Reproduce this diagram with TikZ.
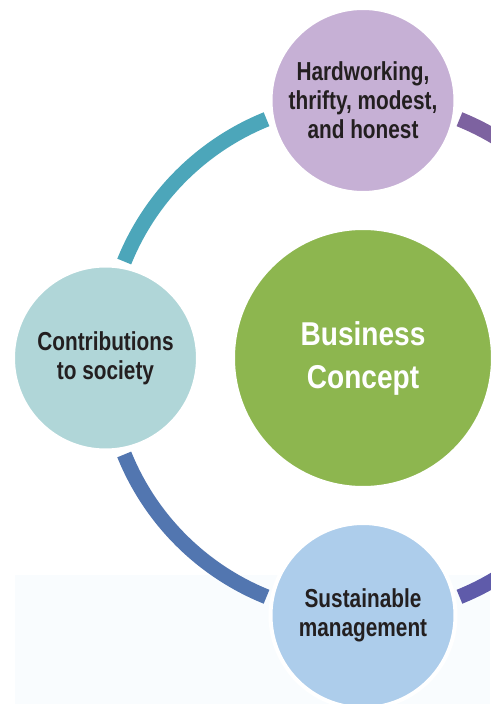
\documentclass[tikz,border=0pt]{standalone}
\usepackage{fontspec}
\newfontfamily\narrowfont[FakeStretch=0.8]{Liberation Sans}
\newfontfamily\corefont[FakeStretch=0.85]{Liberation Sans}
\usetikzlibrary{positioning}
\definecolor{ringteal}{RGB}{76,166,186}
\definecolor{ringblue}{RGB}{82,118,176}
\definecolor{ringpurple}{RGB}{125,98,160}
\definecolor{ringindigo}{RGB}{95,91,170}
\definecolor{fillpurple}{RGB}{198,176,213}
\definecolor{fillteal}{RGB}{176,214,216}
\definecolor{fillblue}{RGB}{173,205,235}
\definecolor{fillgreen}{RGB}{141,182,79}
\definecolor{textdark}{RGB}{35,31,32}
\definecolor{haze}{RGB}{249,252,254}
\tikzstyle{value} = [circle, minimum size=185pt, inner sep=0pt, outer sep=0pt, draw=white,
line width=4pt, align=center, text=textdark, font=\narrowfont\bfseries\fontsize{26}{29}\selectfont]
\tikzstyle{core} = [circle, minimum size=260pt, inner sep=0pt, outer sep=0pt, draw=white,
line width=4pt, fill=fillgreen, align=center, text=white, font=\corefont\bfseries\fontsize{33}{43}\selectfont]
\tikzstyle{link} = [line width=15pt, line cap=butt]

\begin{document}
\begin{tikzpicture} [node distance=35pt]
  % page and the faint band at the bottom
  \fill[white] (-363pt,-346pt) rectangle (127pt,358pt);
  \fill[haze] (-348pt,-217pt) rectangle (127pt,-346pt);
  \useasboundingbox (-363pt,-346pt) rectangle (127pt,358pt);

  \node (concept) [core] {Business\\Concept};
  \node (honest) [value, fill=fillpurple, above=of concept] {Hardworking,\\thrifty, modest,\\and honest};
  \node (society) [value, fill=fillteal, left=of concept] {Contributions\\to society};
  \node (sustain) [value, fill=fillblue, below=of concept] {Sustainable\\management};

  % ring segments between the circles
  \draw[link, ringteal] (concept.center) ++(112:257.5pt) arc[start angle=112, end angle=158, radius=257.5pt];
  \draw[link, ringblue] (concept.center) ++(202:257.5pt) arc[start angle=202, end angle=248, radius=257.5pt];
  \draw[link, ringpurple] (concept.center) ++(68:257.5pt) arc[start angle=68, end angle=22, radius=257.5pt];
  \draw[link, ringindigo] (concept.center) ++(-68:257.5pt) arc[start angle=-68, end angle=-22, radius=257.5pt];
\end{tikzpicture}
\end{document}
